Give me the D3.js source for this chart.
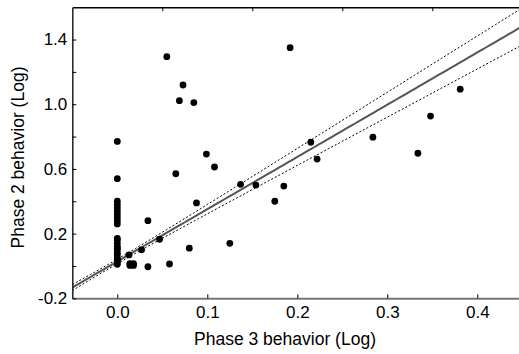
<!DOCTYPE html>
<html>
<head>
<meta charset="utf-8">
<script src="https://cdn.jsdelivr.net/npm/d3@7"></script>
<style>
  body { margin: 0; background: #fff; }
  text { font-family: "Liberation Sans", Arial, sans-serif; }
</style>
</head>
<body>
<div id="chart"></div>
<script>
// Phase 3 (x) and Phase 2 (y) behaviour, log scale
const phase3 = [
  0, 0, 0, 0, 0, 0, 0, 0, 0, 0, 0, 0, 0, 0, 0, 0, 0, 0, 0, 0, 0, 0, 0,
  0.013, 0.014, 0.018, 0.014, 0.018, 0.016,
  0.027, 0.034, 0.034, 0.047, 0.055, 0.058, 0.065, 0.069, 0.073, 0.080,
  0.085, 0.088, 0.099, 0.108, 0.125, 0.137, 0.154, 0.175, 0.185, 0.192,
  0.215, 0.222, 0.284, 0.334, 0.348, 0.381
];
const phase2 = [
  0.77, 0.54, 0.40, 0.38, 0.36, 0.34, 0.32, 0.30, 0.28, 0.26, 0.17, 0.16,
  0.14, 0.12, 0.11, 0.10, 0.08, 0.07, 0.05, 0.04, 0.03, 0.02, 0.01,
  0.068, 0.015, 0.015, 0.003, 0.003, 0.01,
  0.10, 0.28, -0.005, 0.165, 1.294, 0.012, 0.57, 1.022, 1.119, 0.11,
  1.01, 0.39, 0.692, 0.612, 0.14, 0.505, 0.50, 0.40, 0.494, 1.35,
  0.765, 0.661, 0.796, 0.697, 0.927, 1.093
];

// regression fit and confidence band
const fitIntercept = 0.028;
const fitSlope = 3.23;
const ciCenterHalf = 0.0141;
const ciSlopeSpread = 0.2524;
const ciCenterX = 0.0;

const xTicks = [0, 0.1, 0.2, 0.3, 0.4];
const xTopTicks = [0.05, 0.15, 0.25, 0.35, 0.45];
const yTicks = [-0.2, 0, 0.2, 0.4, 0.6, 0.8, 1.0, 1.2, 1.4];
const yLabels = [-0.2, 0.2, 0.6, 1.0, 1.4];

const W = 519, H = 354;
const svg = d3.select("#chart").append("svg")
  .attr("width", W).attr("height", H);

const x = d3.scaleLinear().domain([-0.05, 0.45]).range([72.3, 522.3]);
const y = d3.scaleLinear().domain([-0.2, 1.6]).range([298.3, 7.2]);

svg.append("clipPath").attr("id", "plot")
  .append("rect")
  .attr("x", x(-0.05)).attr("y", y(1.6))
  .attr("width", x(0.45) - x(-0.05)).attr("height", y(-0.2) - y(1.6));

// fit + band
const xs = d3.range(-0.05, 0.4501, 0.005);
const fit = v => fitIntercept + fitSlope * v;
const half = v => Math.sqrt(ciCenterHalf ** 2 + (ciSlopeSpread * (v - ciCenterX)) ** 2);

const lines = svg.append("g").attr("clip-path", "url(#plot)");
const line = d3.line().x(d => x(d[0])).y(d => y(d[1]));

lines.append("path")
  .attr("d", line(xs.map(v => [v, fit(v) + half(v)])))
  .attr("fill", "none").attr("stroke", "#000")
  .attr("stroke-width", 1).attr("stroke-dasharray", "2,2");
lines.append("path")
  .attr("d", line(xs.map(v => [v, fit(v) - half(v)])))
  .attr("fill", "none").attr("stroke", "#000")
  .attr("stroke-width", 1).attr("stroke-dasharray", "2,2");
lines.append("path")
  .attr("d", line(xs.map(v => [v, fit(v)])))
  .attr("fill", "none").attr("stroke", "#555")
  .attr("stroke-width", 2);

// points
svg.append("g")
  .selectAll("circle")
  .data(phase3.map((v, i) => [v, phase2[i]]))
  .enter().append("circle")
  .attr("cx", d => x(d[0]))
  .attr("cy", d => y(d[1]))
  .attr("r", 3.4)
  .attr("fill", "#000");

// axes
const xAxis = svg.append("g")
  .attr("transform", `translate(0,${y(-0.2)})`)
  .call(d3.axisBottom(x).tickValues(xTicks).tickSize(-4).tickSizeOuter(0)
    .tickPadding(8).tickFormat(d => d.toFixed(1)));
xAxis.select(".domain").attr("stroke", "#777").attr("stroke-width", 2);
xAxis.selectAll(".tick line").attr("stroke", "#000");

const topAxis = svg.append("g")
  .attr("transform", `translate(0,${y(1.6)})`)
  .call(d3.axisTop(x).tickValues(xTopTicks).tickSize(-4).tickSizeOuter(0)
    .tickFormat(""));
topAxis.select(".domain").attr("stroke", "#000").attr("stroke-width", 1.5);

const yAxis = svg.append("g")
  .attr("transform", `translate(${x(-0.05)},0)`)
  .call(d3.axisLeft(y).tickValues(yTicks).tickSize(-4).tickSizeOuter(0)
    .tickPadding(5)
    .tickFormat(d => yLabels.some(l => Math.abs(l - d) < 1e-9) ? d.toFixed(1) : ""));
yAxis.select(".domain").attr("stroke", "#222").attr("stroke-width", 1.5);

svg.selectAll(".tick text")
  .attr("font-family", "Liberation Sans, Arial, sans-serif")
  .attr("font-size", 17).attr("fill", "#000");

// titles
svg.append("text")
  .attr("x", 285).attr("y", 345)
  .attr("text-anchor", "middle")
  .attr("font-size", 17.5)
  .text("Phase 3 behavior (Log)");

svg.append("text")
  .attr("transform", "translate(24,157.5) rotate(-90)")
  .attr("text-anchor", "middle")
  .attr("font-size", 17.5)
  .text("Phase 2 behavior (Log)");
</script>
</body>
</html>
